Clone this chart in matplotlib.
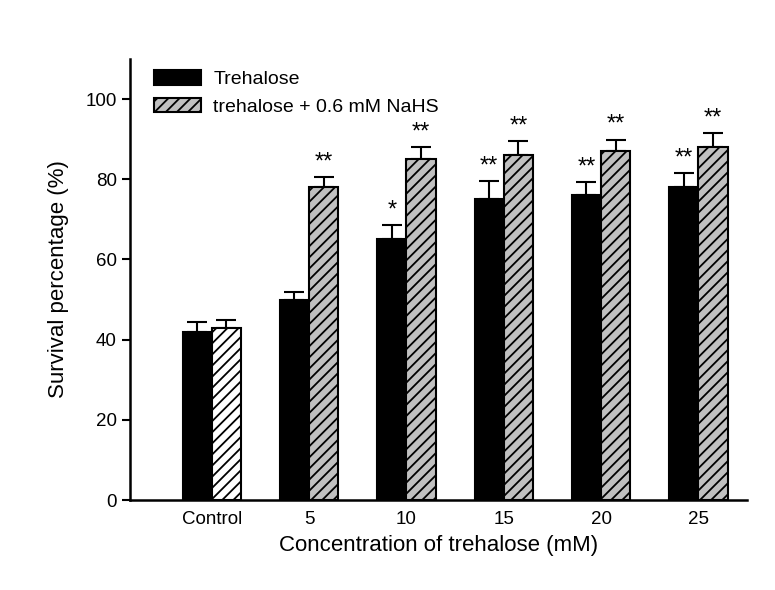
"""
Survival percentage vs trehalose concentration, with and without NaHS.
"""

# import libraries
from matplotlib import pyplot as plt
from matplotlib.patches import Patch
import numpy as np

# data
categories = ["Control", "5", "10", "15", "20", "25"]
trehalose = [42, 50, 65, 75, 76, 78]
trehalose_err = [2.5, 2, 3.5, 4.5, 3.2, 3.5]
nahs = [43, 78, 85, 86, 87, 88]
nahs_err = [2, 2.5, 3, 3.5, 2.9, 3.5]
trehalose_marks = ["", "", "*", "**", "**", "**"]
nahs_marks = ["", "**", "**", "**", "**", "**"]


def main():
    plt.rcParams['font.family'] = ['Liberation Sans', 'DejaVu Sans']
    plt.rcParams['hatch.linewidth'] = 1.3

    fig = plt.figure(figsize=(7.75, 5.9), dpi=100)
    ax = fig.add_axes([0.1677, 0.1525, 0.7962, 0.7475])

    x = np.arange(len(categories))
    width = 0.3
    zeros = [0] * len(categories)

    ax.bar(x - width / 2, trehalose, width, color='black', edgecolor='black',
           linewidth=1.5, zorder=2)
    ax.errorbar(x - width / 2, trehalose, yerr=[zeros, trehalose_err], fmt='none',
                ecolor='black', elinewidth=1.5, capsize=7, capthick=1.5, zorder=1)

    faces = ['white'] + ['#c0c0c0'] * (len(categories) - 1)
    ax.bar(x + width / 2, nahs, width, color=faces, edgecolor='black',
           linewidth=1.5, hatch='///', zorder=2)
    ax.errorbar(x + width / 2, nahs, yerr=[zeros, nahs_err], fmt='none',
                ecolor='black', elinewidth=1.5, capsize=7, capthick=1.5, zorder=1)

    # significance marks
    for i in range(len(categories)):
        if trehalose_marks[i]:
            ax.text(x[i] - width / 2, trehalose[i] + trehalose_err[i] + 1.0, trehalose_marks[i],
                    ha='center', va='bottom', fontsize=17)
        if nahs_marks[i]:
            ax.text(x[i] + width / 2, nahs[i] + nahs_err[i] + 1.0, nahs_marks[i],
                    ha='center', va='bottom', fontsize=17)

    ax.set_xlim(-0.84, 5.5)
    ax.set_ylim(0, 110)
    ax.set_yticks([0, 20, 40, 60, 80, 100])
    ax.set_xticks(x)
    ax.set_xticklabels(categories)
    ax.tick_params(axis='x', length=0, pad=8, labelsize=13.5)
    ax.tick_params(axis='y', length=6, width=1.5, direction='out', labelsize=13.5)

    for side in ['top', 'right']:
        ax.spines[side].set_visible(False)
    for side in ['left', 'bottom']:
        ax.spines[side].set_linewidth(1.8)

    ax.set_xlabel('Concentration of trehalose (mM)', fontsize=16, labelpad=5)
    ax.set_ylabel('Survival percentage (%)', fontsize=16, labelpad=12)

    handles = [
        Patch(facecolor='black', edgecolor='black', linewidth=1.5),
        Patch(facecolor='#c0c0c0', edgecolor='black', linewidth=1.5, hatch='///'),
    ]
    ax.legend(handles, ['Trehalose', 'trehalose + 0.6 mM NaHS'],
              loc='upper left', bbox_to_anchor=(0.017, 1.005), frameon=False, fontsize=14,
              handlelength=2.4, handleheight=0.75, handletextpad=0.65, labelspacing=0.5,
              borderaxespad=0.3)

    fig.savefig('out.png', dpi=100)


if __name__ == '__main__':
    main()
